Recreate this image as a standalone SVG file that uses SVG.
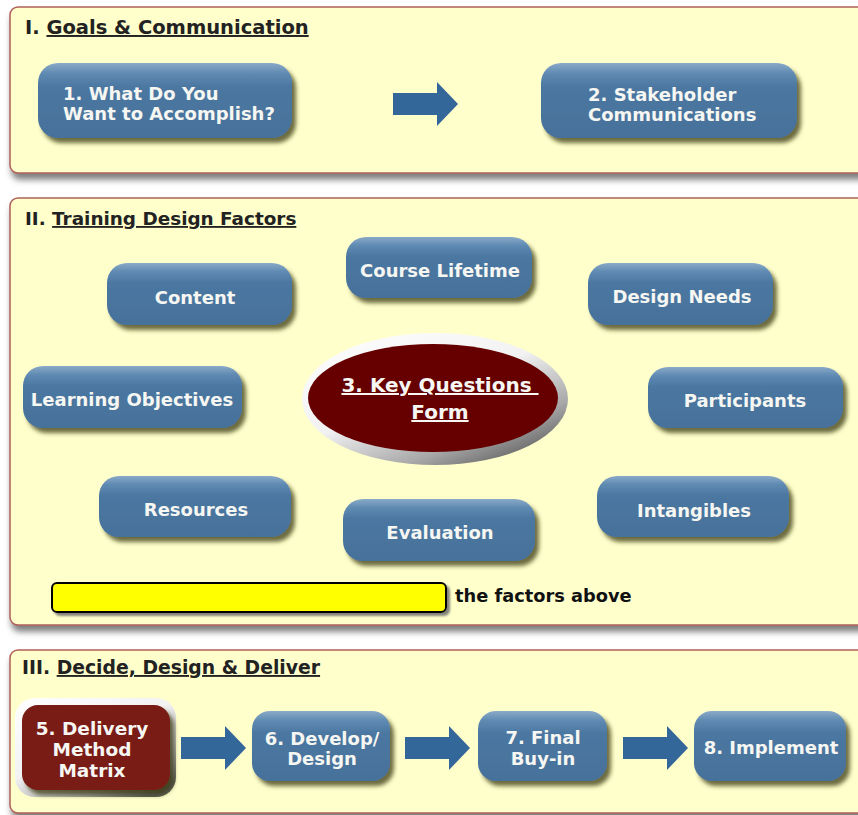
<svg xmlns="http://www.w3.org/2000/svg" xmlns:xlink="http://www.w3.org/1999/xlink" width="858" height="815" viewBox="0 0 858 815">
<defs>
<style>
.panel{fill:#ffffcc;stroke:#b0605a;stroke-width:1.5;filter:url(#pshadow)}
.title{font-family:"DejaVu Sans",sans-serif;font-weight:bold;font-size:19.5px;fill:#222}
.u{text-decoration:underline}
.node{fill:url(#blue);filter:url(#nshadow)}
.nt{font-family:"DejaVu Sans",sans-serif;font-weight:bold;font-size:18px;fill:#f6f6f2}
.c{text-anchor:middle}
.arrow{fill:#336699}
.red{fill:#7a1c14;filter:url(#nshadow)}
</style>
<linearGradient id="blue" x1="0" y1="0" x2="0" y2="1">
<stop offset="0" stop-color="#8aaac8"/>
<stop offset="0.14" stop-color="#5f8ab2"/>
<stop offset="0.32" stop-color="#4b77a1"/>
<stop offset="1" stop-color="#46719a"/>
</linearGradient>
<linearGradient id="ring" x1="0" y1="0" x2="0.8" y2="1">
<stop offset="0" stop-color="#ffffff"/>
<stop offset="0.5" stop-color="#f2f2f2"/>
<stop offset="0.8" stop-color="#a8a8a8"/>
<stop offset="1" stop-color="#5e5e5e"/>
</linearGradient>
<filter id="pshadow" x="-5%" y="-5%" width="110%" height="115%">
<feDropShadow dx="2" dy="6" stdDeviation="3" flood-color="#555" flood-opacity="0.75"/>
</filter>
<filter id="nshadow" x="-10%" y="-15%" width="125%" height="140%">
<feDropShadow dx="4" dy="5" stdDeviation="2" flood-color="#3a3a18" flood-opacity="0.75"/>
</filter>
<filter id="bshadow" x="-5%" y="-20%" width="110%" height="150%">
<feDropShadow dx="3" dy="3" stdDeviation="1" flood-color="#666" flood-opacity="0.8"/>
</filter>
<path id="arr" d="M0,-11 H44 V-22 L65,0 L44,22 V11 H0 Z"/>
</defs>

<g id="panel1">
<rect class="panel" x="10" y="7" width="870" height="166" rx="8"/>
<text class="title" x="25" y="34">I. <tspan class="u">Goals &amp; Communication</tspan></text>
</g>
<g id="panel2">
<rect class="panel" x="10" y="198" width="870" height="427" rx="8"/>
<text class="title" x="25" y="225" style="font-size:18.4px">II. <tspan class="u">Training Design Factors</tspan></text>
</g>
<g id="panel3">
<rect class="panel" x="10" y="650" width="870" height="163" rx="8"/>
<text class="title" x="22" y="674" style="font-size:18.8px">III. <tspan class="u">Decide, Design &amp; Deliver</tspan></text>
</g>

<g id="connectors">
<use xlink:href="#arr" class="arrow" transform="translate(393,104)"/>
<use xlink:href="#arr" class="arrow" transform="translate(181,748)"/>
<use xlink:href="#arr" class="arrow" transform="translate(405,748)"/>
<use xlink:href="#arr" class="arrow" transform="translate(623,748)"/>
</g>

<g id="n1">
<rect class="node" x="38" y="63" width="254" height="75" rx="20"/>
<text class="nt" x="63" y="100">1. What Do You</text>
<text class="nt" x="63" y="120">Want to Accomplish?</text>
</g>
<g id="n2">
<rect class="node" x="541" y="63" width="256" height="75" rx="20"/>
<text class="nt" x="588" y="101">2. Stakeholder</text>
<text class="nt" x="588" y="121">Communications</text>
</g>

<g id="content">
<rect class="node" x="107" y="263" width="185" height="62" rx="20"/>
<text class="nt c" x="195" y="304">Content</text>
</g>
<g id="lifetime">
<rect class="node" x="346" y="237" width="186" height="61" rx="20"/>
<text class="nt c" x="440" y="277">Course Lifetime</text>
</g>
<g id="needs">
<rect class="node" x="588" y="263" width="185" height="62" rx="20"/>
<text class="nt c" x="682" y="303">Design Needs</text>
</g>
<g id="objectives">
<rect class="node" x="23" y="366" width="219" height="62" rx="20"/>
<text class="nt c" x="132" y="406">Learning Objectives</text>
</g>
<g id="participants">
<rect class="node" x="648" y="367" width="195" height="61" rx="20"/>
<text class="nt c" x="745" y="407">Participants</text>
</g>
<g id="resources">
<rect class="node" x="99" y="476" width="192" height="61" rx="20"/>
<text class="nt c" x="196" y="516">Resources</text>
</g>
<g id="evaluation">
<rect class="node" x="343" y="499" width="192" height="62" rx="20"/>
<text class="nt c" x="440" y="539">Evaluation</text>
</g>
<g id="intangibles">
<rect class="node" x="597" y="476" width="192" height="61" rx="20"/>
<text class="nt c" x="694" y="517">Intangibles</text>
</g>

<g id="keyquestions">
<ellipse cx="435" cy="399" rx="133" ry="66" fill="url(#ring)"/>
<ellipse cx="433" cy="398" rx="125" ry="54" fill="#660000"/>
<text class="nt c" x="440" y="392" style="font-size:20px" xml:space="preserve"><tspan class="u">3. Key Questions </tspan></text>
<text class="nt c" x="440" y="419" style="font-size:20px"><tspan class="u">Form</tspan></text>
</g>

<g id="factorsnote">
<rect x="52" y="583" width="394" height="29" rx="5" fill="#ffff00" stroke="#000" stroke-width="2" filter="url(#bshadow)"/>
<text x="455" y="602" style="font-family:'DejaVu Sans',sans-serif;font-weight:bold;font-size:17.8px;fill:#111">the factors above</text>
</g>

<g id="n5">
<rect x="15" y="698" width="161" height="99" rx="20" fill="url(#ring)"/>
<rect class="red" x="22" y="705" width="148" height="85" rx="16"/>
<text class="nt c" x="92" y="735" style="font-size:18.5px">5. Delivery</text>
<text class="nt c" x="92" y="756" style="font-size:18.5px">Method</text>
<text class="nt c" x="92" y="777" style="font-size:18.5px">Matrix</text>
</g>
<g id="n6">
<rect class="node" x="252" y="711" width="138" height="70" rx="18"/>
<text class="nt c" x="322" y="745">6. Develop/</text>
<text class="nt c" x="322" y="765">Design</text>
</g>
<g id="n7">
<rect class="node" x="478" y="711" width="129" height="70" rx="18"/>
<text class="nt c" x="543" y="744">7. Final</text>
<text class="nt c" x="543" y="765">Buy-in</text>
</g>
<g id="n8">
<rect class="node" x="694" y="711" width="152" height="70" rx="18"/>
<text class="nt c" x="771" y="754">8. Implement</text>
</g>
</svg>
